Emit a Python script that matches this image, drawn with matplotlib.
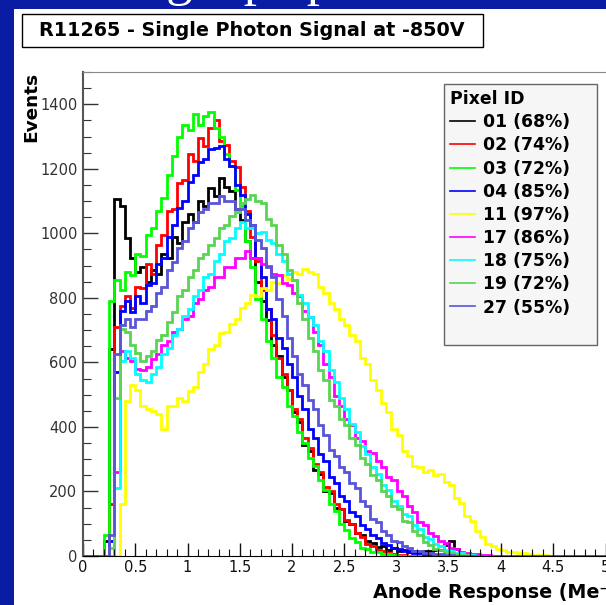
import matplotlib.pyplot as plt
import numpy as np
from matplotlib.lines import Line2D
from matplotlib.patches import Rectangle
from matplotlib.ticker import MultipleLocator, FormatStrFormatter, FixedLocator

# histogram binning: 0.05 Me- per bin, every list below starts at 0.15
bin_width = 0.05
first_edge = 0.15
x_max = 6.0

pix_01 = [0, 45, 640, 1105, 1085, 985, 925, 880, 895, 850,
          885, 875, 935, 925, 990, 970, 1035, 1060, 1035, 1100,
          1085, 1140, 1115, 1170, 1145, 1130, 1075, 1040, 975, 925,
          850, 790, 730, 655, 620, 555, 515, 445, 415, 345,
          325, 265, 255, 200, 195, 150, 145, 110, 100, 70,
          64, 45, 40, 28, 30, 20, 24, 16, 19, 13,
          15, 12, 16, 14, 20, 18, 34, 45, 22, 9,
          5, 3, 1]
pix_02 = [0, 0, 160, 710, 775, 805, 770, 835, 830, 905,
          875, 965, 995, 1070, 1075, 1155, 1165, 1245, 1225, 1295,
          1270, 1325, 1350, 1285, 1275, 1225, 1205, 1145, 1070, 990,
          915, 825, 765, 685, 615, 565, 515, 455, 425, 365,
          335, 285, 260, 215, 200, 160, 145, 112, 98, 72,
          58, 38, 32, 20, 16, 9, 7, 3, 2]
pix_03 = [0, 65, 790, 855, 825, 880, 870, 935, 930, 995,
          1015, 1070, 1110, 1180, 1240, 1300, 1335, 1320, 1370, 1335,
          1365, 1375, 1325, 1300, 1245, 1210, 1135, 1085, 975, 895,
          795, 735, 665, 615, 555, 525, 465, 435, 385, 350,
          305, 280, 235, 205, 160, 138, 100, 82, 55, 44,
          26, 21, 13, 11, 6, 5, 2]
pix_04 = [0, 0, 45, 570, 760, 790, 755, 805, 785, 840,
          845, 905, 925, 990, 1025, 1080, 1100, 1160, 1180, 1220,
          1230, 1260, 1265, 1270, 1230, 1210, 1150, 1120, 1060, 1025,
          925, 865, 765, 735, 675, 645, 595, 555, 495, 455,
          395, 365, 315, 295, 245, 225, 185, 170, 135, 124,
          96, 85, 64, 55, 40, 35, 24, 22, 15, 14,
          10, 9, 6, 5, 3, 3, 1]
pix_11 = [0, 0, 0, 0, 160, 480, 530, 515, 465, 455,
          450, 440, 395, 465, 465, 490, 480, 510, 525, 570,
          595, 640, 655, 690, 695, 720, 735, 770, 785, 810,
          805, 830, 825, 850, 845, 870, 860, 880, 875, 890,
          880, 875, 835, 815, 785, 765, 735, 715, 685, 665,
          615, 595, 545, 515, 475, 445, 395, 375, 325, 310,
          280, 275, 260, 268, 250, 255, 230, 220, 180, 165,
          125, 108, 76, 58, 38, 32, 22, 20, 13, 13,
          9, 8, 5, 4, 2, 2]
pix_17 = [0, 0, 0, 260, 635, 615, 605, 580, 575, 585,
          610, 625, 655, 665, 695, 705, 735, 745, 785, 795,
          825, 835, 865, 865, 895, 895, 925, 925, 945, 925,
          925, 905, 900, 875, 870, 845, 840, 815, 805, 760,
          740, 695, 655, 595, 555, 495, 465, 425, 405, 365,
          355, 325, 320, 295, 275, 245, 235, 200, 185, 155,
          135, 105, 95, 72, 63, 45, 40, 26, 21, 13,
          10, 6, 5, 2, 2]
pix_18 = [0, 0, 0, 210, 605, 635, 615, 565, 545, 540,
          565, 585, 625, 645, 685, 705, 745, 765, 805, 825,
          865, 875, 915, 935, 975, 985, 1015, 1035, 1015, 1015,
          1000, 1005, 980, 970, 935, 915, 875, 855, 810, 785,
          740, 715, 665, 635, 575, 540, 490, 455, 410, 385,
          340, 315, 275, 255, 220, 205, 170, 155, 130, 123,
          95, 83, 58, 52, 37, 32, 20, 16, 10, 8,
          4, 3]
pix_19 = [0, 0, 25, 490, 705, 695, 655, 630, 605, 620,
          635, 670, 685, 725, 755, 805, 825, 865, 885, 925,
          935, 965, 985, 1015, 1025, 1055, 1065, 1095, 1105, 1120,
          1100, 1095, 1045, 1025, 965, 935, 885, 855, 785, 735,
          675, 635, 575, 545, 485, 465, 425, 405, 365, 345,
          305, 285, 250, 235, 200, 185, 155, 145, 110, 104,
          76, 65, 42, 34, 22, 19, 11, 9, 5, 4,
          2]
pix_27 = [0, 0, 65, 625, 715, 735, 710, 735, 735, 760,
          775, 815, 835, 885, 910, 955, 975, 1015, 1035, 1065,
          1075, 1095, 1095, 1115, 1100, 1100, 1075, 1075, 1040, 1025,
          980, 955, 895, 865, 795, 745, 675, 620, 565, 530,
          485, 455, 405, 375, 330, 310, 275, 260, 225, 210,
          170, 155, 115, 104, 76, 65, 47, 42, 30, 26,
          17, 16, 10, 9, 6, 5, 2, 2]

pixel_series = [pix_01, pix_02, pix_03, pix_04, pix_11, pix_17, pix_18, pix_19, pix_27]
pixel_labels = ["01 (68%)", "02 (74%)", "03 (72%)", "04 (85%)", "11 (97%)",
                "17 (86%)", "18 (75%)", "19 (72%)", "27 (55%)"]
pixel_colors = ["#000000", "#ff0000", "#00ff00", "#0000ff", "#ffff00",
                "#ff00ff", "#00ffff", "#59d454", "#5954d8"]
x_tick_values = [0, 0.5, 1, 1.5, 2, 2.5, 3, 3.5, 4, 4.5, 5]

title = "R11265 - Single Photon Signal at -850V"
slide_blue = "#0a1ca3"

W, H = 606, 605
fig = plt.figure(figsize=(W / 100, H / 100), dpi=100)


def fx(px):
    return px / W


def fy(py):
    return 1 - py / H


# slide border around the pasted ROOT canvas
fig.add_artist(Rectangle((0, 0), fx(14), 1, transform=fig.transFigure,
                         facecolor=slide_blue, edgecolor="none", zorder=0))
fig.add_artist(Rectangle((0, fy(9)), 1, 9 / H, transform=fig.transFigure,
                         facecolor=slide_blue, edgecolor="none", zorder=0))
# slide heading, only its descenders reach into the strip
fig.text(fx(96), fy(-5), "Single pe peak", color="white",
         family="Liberation Serif", size=38, ha="left", va="baseline")

# title box
fig.add_artist(Rectangle((fx(22), fy(47)), (483 - 22) / W, 33 / H,
                         transform=fig.transFigure, facecolor="white",
                         edgecolor="black", lw=1.0, zorder=1))
fig.text(fx(252), fy(31), title, ha="center", va="center",
         weight="bold", size=13.8, zorder=2)

ax = fig.add_axes([fx(83), fy(556), x_max * 104.5 / W, 484 / H])

edges = np.round(np.arange(0, x_max + bin_width / 2, bin_width), 4)
start = int(round(first_edge / bin_width))
for vals, col in zip(pixel_series, pixel_colors):
    counts = np.zeros(len(edges) - 1)
    counts[start:start + len(vals)] = vals
    ax.stairs(counts, edges, color=col, lw=2.0, baseline=None)

ax.set_xlim(0, x_max)
ax.set_ylim(0, 1500)
ax.xaxis.set_major_locator(FixedLocator(x_tick_values))
ax.xaxis.set_minor_locator(MultipleLocator(0.1))
ax.yaxis.set_major_locator(MultipleLocator(200))
ax.yaxis.set_minor_locator(MultipleLocator(50))
ax.xaxis.set_major_formatter(FormatStrFormatter("%g"))

ax.tick_params(axis="x", which="both", direction="in", colors="#111111",
               labelsize=10.5, pad=3)
ax.tick_params(axis="x", which="major", length=9.5, width=1.0)
ax.tick_params(axis="x", which="minor", length=4.7, width=0.8)
ax.tick_params(axis="y", which="both", direction="in", colors="#333333",
               labelsize=10.5, pad=4)
ax.tick_params(axis="y", which="major", length=10.8, width=1.0)
ax.tick_params(axis="y", which="minor", length=5.8, width=0.8)

ax.spines["left"].set_color("#555555")
ax.spines["left"].set_linewidth(1.5)
ax.spines["top"].set_color("#888888")
ax.spines["bottom"].set_color("black")
ax.spines["right"].set_visible(False)

fig.text(fx(31), fy(72), "Events", rotation=90, ha="center", va="top",
         weight="bold", size=13.3)
fig.text(fx(373), fy(592), "Anode Response (Me\u207b)", ha="left", va="center",
         weight="bold", size=13.8)

# legend box
ax.add_patch(Rectangle((fx(444), fy(345)), (597 - 444) / W, (345 - 84) / H,
                       transform=fig.transFigure, facecolor="#f6f6f6",
                       edgecolor="#666666", lw=1.0, zorder=4.5, clip_on=False))
handles = [Line2D([], [], color=c, lw=1.2) for c in pixel_colors]
ax.legend(handles, pixel_labels, title="Pixel ID", loc="upper left",
          bbox_to_anchor=(fx(444), fy(84)), bbox_transform=fig.transFigure,
          prop={"weight": "bold", "size": 12.4},
          title_fontproperties={"weight": "bold", "size": 12.4},
          alignment="left", frameon=False, handlelength=1.45,
          handletextpad=0.45, labelspacing=0.3, borderpad=0.35,
          borderaxespad=0)

fig.savefig("out.png", dpi=100)
